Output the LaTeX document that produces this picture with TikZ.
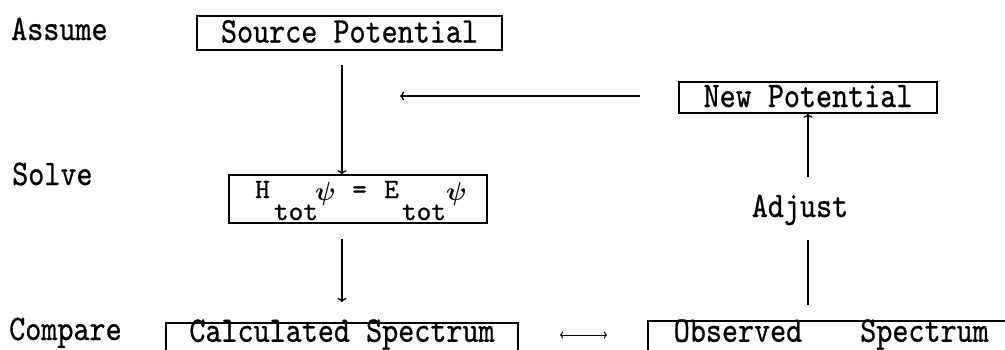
\documentclass[tikz,border=0pt]{standalone}
\usepackage{graphicx}
\usepackage{fontspec}
\setmonofont{lmmono10-regular.otf}[FakeBold=0.8]
\usetikzlibrary{arrows.meta}
\newcommand\tx[1]{\scalebox{0.85}[1]{#1}}
\begin{document}
\begin{tikzpicture}[x=1pt,y=-1pt,
  lbl/.style={inner sep=0pt,font=\fontsize{36}{40}\selectfont\ttfamily},
  bx/.style={draw,line width=1.5pt,inner xsep=0pt,inner ysep=0pt,text height=22pt,text depth=3pt,font=\fontsize{36}{40}\selectfont\ttfamily},
  sm/.style={inner sep=0pt,font=\fontsize{28}{30}\selectfont\ttfamily},
  conn/.style={line width=1.3pt},
  >={To[length=4pt,width=9pt]}]
\useasboundingbox (0,0) rectangle (1005,349);
\clip (0,0) rectangle (1005,349);
% row labels
\node[lbl,anchor=base west] (assume) at (11,40) {\tx{Assume}};
\node[lbl,anchor=base west] (solve) at (12,185) {\tx{Solve}};
\node[lbl,anchor=base west] (compare) at (9,340) {\tx{Compare}};
\node[lbl,anchor=base] (adjust) at (800,217) {\tx{Adjust}};
% boxes
\node[bx,minimum width=305pt,minimum height=34pt] (src) at (349.5,33) {\tx{Source Potential}};
\node[bx,minimum width=258pt,minimum height=31pt] (newp) at (808,97.5) {\tx{New Potential}};
\node[draw,line width=1.5pt,minimum width=258pt,minimum height=48pt,inner sep=0pt] (ham) at (358,199) {};
\node[sm,anchor=base] (hH) at (262.5,198) {H};
\node[sm,anchor=base] (ht1) at (296,220) {tot};
\node[inner sep=0pt,anchor=base] (hp1) at (325.5,200) {\scalebox{2.6}{\boldmath$\psi$}};
\node[sm,anchor=base] (heq) at (359.5,198) {=};
\node[sm,anchor=base] (hE) at (391.5,198) {E};
\node[sm,anchor=base] (ht2) at (424,220) {tot};
\node[inner sep=0pt,anchor=base] (hp2) at (456.5,200) {\scalebox{2.6}{\boldmath$\psi$}};
\node[bx,anchor=north,minimum width=352pt,inner ysep=0pt,text height=19pt,text depth=14pt] (calc) at (342,322) {\tx{Calculated Spectrum}};
\node[bx,anchor=north west,inner xsep=26pt,inner ysep=0pt,text height=21pt,text depth=14pt] (obs) at (647,320) {\tx{Observed}\hspace{58pt}\tx{Spectrum}\hspace{20pt}};
% connectors
\coordinate (a1) at (342,65);
\draw[conn,->] (a1) -- (a1 |- ham.north);
\coordinate (b1) at (640,96);
\coordinate (b2) at (400,96);
\draw[conn,->] (b1) -- (b2);
\coordinate (c1) at (342,239);
\coordinate (c2) at (342,302);
\draw[conn,->] (c1) -- (c2);
\coordinate (d1) at (808,305);
\coordinate (d2) at (808,240);
\draw[conn] (d1) -- (d2);
\coordinate (e1) at (808,177);
\draw[conn,->] (e1) -- (e1 |- newp.south);
\coordinate (f1) at (560,335);
\coordinate (f2) at (607,335);
\draw[line width=1pt,{To[length=3pt,width=7pt]}-{To[length=3pt,width=7pt]}] (f1) -- (f2);
\end{tikzpicture}
\end{document}
